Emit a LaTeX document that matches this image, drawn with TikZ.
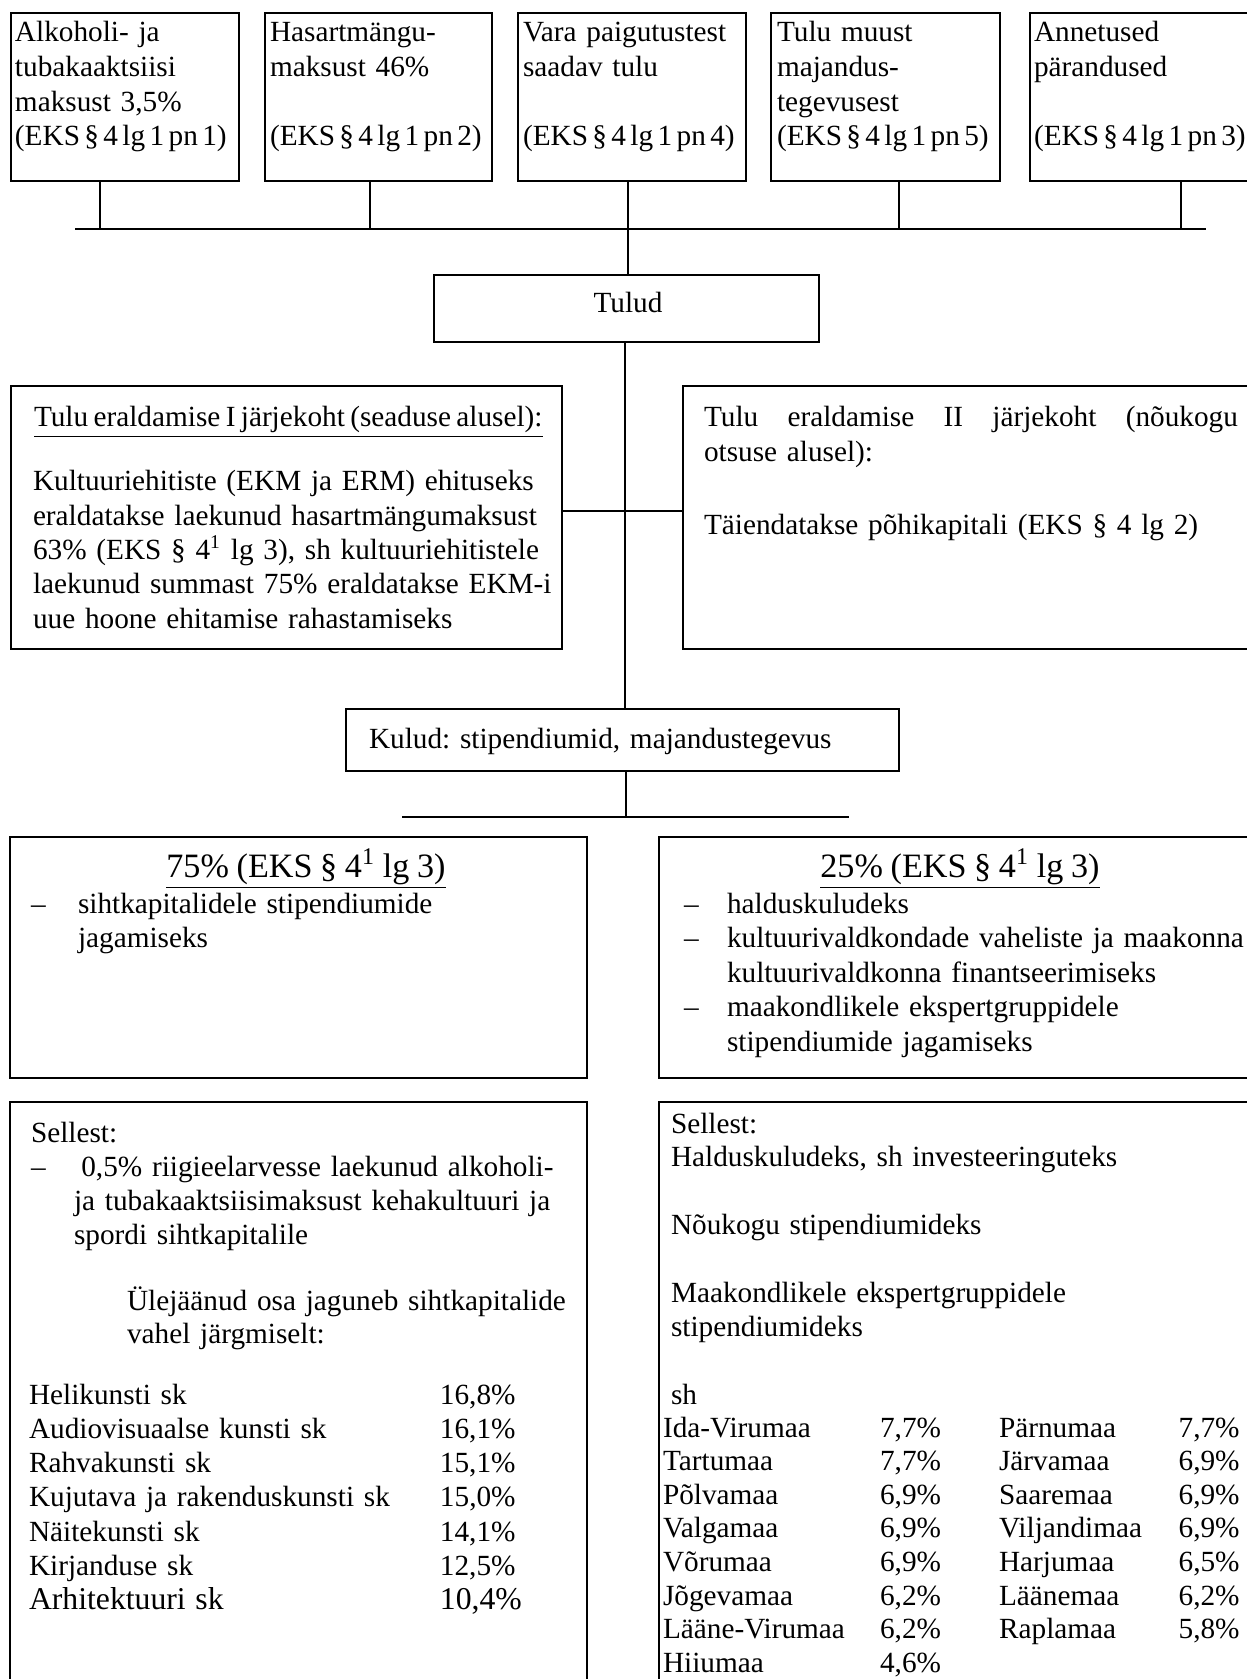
\documentclass[tikz,border=0pt]{standalone}
\usepackage{fontspec}
\setmainfont{Liberation Serif}[WordSpace=0.9]
\frenchspacing
\newcommand\bx[5]{\node[box, anchor=north west, minimum width={(#4-#2)*0.41pt}, minimum height={(#5-#3)*0.41pt}] (#1) at (#2,#3) {};}
\newcommand\eks[1]{{\spaceskip=1.8pt\relax #1}}
\tikzset{
  box/.style={draw, line width=0.8pt, inner sep=0pt, outer sep=0pt},
  conn/.style={line width=0.6pt},
  txt/.style={inner sep=0pt, outer sep=0pt, anchor=base west, text width=330pt, font=\fontsize{12}{#1}\selectfont},
  txt/.default=14.1pt,
  lbl/.style={inner sep=0pt, outer sep=0pt, anchor=base, font=\fontsize{12}{14}\selectfont},
  big/.style={inner sep=0pt, outer sep=0pt, anchor=base, font=\fontsize{14}{16}\selectfont},
}
\begin{document}
\begin{tikzpicture}[x=0.41pt, y=-0.41pt]
\useasboundingbox (0,0) rectangle (1247,1679);
\clip (0,0) rectangle (1247,1679);
% top boxes
\bx{b1}{11}{13}{239}{181}
\bx{b2}{265}{13}{492}{181}
\bx{b3}{518}{13}{746}{181}
\bx{b4}{771}{13}{1000}{181}
\bx{b5}{1030}{13}{1262}{181}
\node[txt=14.2pt] (t1) at (15,42) {Alkoholi- ja\\tubakaaktsiisi\\maksust 3,5\%\\\eks{(EKS § 4 lg 1 pn 1)}};
\node[txt=14.2pt] (t2) at (270,42) {Hasartmängu-\\maksust 46\%\\[\baselineskip]\eks{(EKS § 4 lg 1 pn 2)}};
\node[txt=14.2pt] (t3) at (523,42) {Vara paigutustest\\saadav tulu\\[\baselineskip]\eks{(EKS § 4 lg 1 pn 4)}};
\node[txt=14.2pt] (t4) at (777,42) {Tulu muust\\majandus-\\tegevusest\\\eks{(EKS § 4 lg 1 pn 5)}};
\node[txt=14.2pt] (t5) at (1034,42) {Annetused\\pärandused\\[\baselineskip]\eks{(EKS § 4 lg 1 pn 3)}};
% bus
\coordinate (busL) at (75,229);
\coordinate (busR) at (1206,229);
\coordinate (s1) at (100,229);
\coordinate (s2) at (370,229);
\coordinate (s3) at (628,229);
\coordinate (s4) at (899,229);
\coordinate (s5) at (1181,229);
\draw[conn] (busL) -- (busR);
\foreach \i in {1,2,4,5} \draw[conn] (s\i |- b\i.south) -- (s\i);
% Tulud
\bx{tulud}{434}{275}{819}{342}
\node[lbl] (tuludt) at (628,313) {Tulud};
\draw[conn] (s3 |- b3.south) -- (s3 |- tulud.north);
% I and II
\bx{eI}{11}{386}{562}{649}
\bx{eII}{683}{386}{1262}{649}
\node[txt] (h1) at (34,427) {\spaceskip=2.2pt\relax\underline{Tulu eraldamise I järjekoht (seaduse alusel):}};
\node[txt=14.05pt] (p1) at (33,491) {Kultuuriehitiste (EKM ja ERM) ehituseks\\eraldatakse laekunud hasartmängumaksust\\63\% (EKS § 4\textsuperscript{1} lg 3), sh kultuuriehitistele\\laekunud summast 75\% eraldatakse EKM-i\\uue hoone ehitamise rahastamiseks};
\node[txt] (h2) at (704,427) {\makebox[218.9pt][l]{Tulu\hfill eraldamise\hfill II\hfill järjekoht\hfill (nõukogu}\\otsuse alusel):};
\node[txt] (p2) at (704,535) {Täiendatakse põhikapitali (EKS § 4 lg 2)};
\coordinate (j1) at (625,511);
\draw[conn] (j1 -| eI.east) -- (j1 -| eII.west);
% Kulud
\bx{kulud}{346}{709}{899}{771}
\node[txt] (kuludt) at (369,748) {Kulud: stipendiumid, majandustegevus};
\draw[conn] (j1 |- tulud.south) -- (j1 |- kulud.north);
\coordinate (k1) at (626,817);
\coordinate (kL) at (402,817);
\coordinate (kR) at (849,817);
\draw[conn] (k1 |- kulud.south) -- (k1);
\draw[conn] (kL) -- (kR);
% 75% and 25%
\bx{b75}{10}{837}{587}{1078}
\bx{b25}{659}{837}{1258}{1078}
\node[big] (h75) at (306,877) {\underline{75\% (EKS § 4\textsuperscript{1} lg 3)}};
\node[txt=14.15pt] (d75) at (31,913) {–};
\node[txt=14.15pt] (l75) at (78,913) {sihtkapitalidele stipendiumide\\jagamiseks};
\node[big] (h25) at (960,877) {\underline{25\% (EKS § 4\textsuperscript{1} lg 3)}};
\node[txt=14.15pt] (d25) at (684,913) {–\\–\\[\baselineskip]–};
\node[txt=14.15pt] (l25) at (727,913) {halduskuludeks\\kultuurivaldkondade vaheliste ja maakonna\\kultuurivaldkonna finantseerimiseks\\maakondlikele ekspertgruppidele\\stipendiumide jagamiseks};
% Sellest boxes
\bx{sL}{10}{1102}{587}{1700}
\bx{sR}{659}{1102}{1258}{1700}
\node[txt] (sl1) at (31,1142) {Sellest:};
\node[txt] (sl2) at (31,1176) {–};
\node[txt=14.05pt] (sl3) at (74,1176) {\hspace*{3pt}0,5\% riigieelarvesse laekunud alkoholi-\\ja tubakaaktsiisimaksust kehakultuuri ja\\spordi sihtkapitalile};
\node[txt=13.8pt] (sl4) at (127,1310) {Ülejäänud osa jaguneb sihtkapitalide\\vahel järgmiselt:};
\node[txt=14.05pt] (sltab) at (29,1404) {\begin{tabular}[t]{@{}p{168.5pt}@{}l@{}}
Helikunsti sk & 16,8\%\\
Audiovisuaalse kunsti sk & 16,1\%\\
Rahvakunsti sk & 15,1\%\\
Kujutava ja rakenduskunsti sk & 15,0\%\\
Näitekunsti sk & 14,1\%\\
Kirjanduse sk & 12,5\%\\
\fontsize{13}{14.05}\selectfont Arhitektuuri sk & \fontsize{13}{14.05}\selectfont 10,4\%
\end{tabular}};
\node[txt=13.9pt] (sr1) at (671,1133) {Sellest:\\Halduskuludeks, sh investeeringuteks\\[\baselineskip]Nõukogu stipendiumideks\\[\baselineskip]Maakondlikele ekspertgruppidele\\stipendiumideks\\[\baselineskip]sh};
\node[txt=13.8pt] (srtab) at (663,1437) {\begin{tabular}[t]{@{}p{89pt}@{}p{48.8pt}@{}p{73.6pt}@{}l@{}}
Ida-Virumaa & 7,7\% & Pärnumaa & 7,7\%\\
Tartumaa & 7,7\% & Järvamaa & 6,9\%\\
Põlvamaa & 6,9\% & Saaremaa & 6,9\%\\
Valgamaa & 6,9\% & Viljandimaa & 6,9\%\\
Võrumaa & 6,9\% & Harjumaa & 6,5\%\\
Jõgevamaa & 6,2\% & Läänemaa & 6,2\%\\
Lääne-Virumaa & 6,2\% & Raplamaa & 5,8\%\\
Hiiumaa & 4,6\% & &
\end{tabular}};
\end{tikzpicture}
\end{document}
